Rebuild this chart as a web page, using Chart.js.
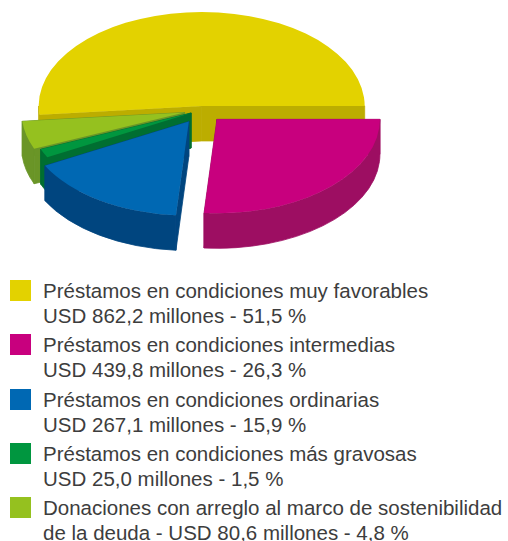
<!DOCTYPE html>
<html>
<head>
<meta charset="utf-8">
<script src="https://cdn.jsdelivr.net/npm/chart.js@4.4.1/dist/chart.umd.min.js"></script>
<style>
  body { margin: 0; background: #fff; width: 508px; height: 541px; overflow: hidden; font-family: "Liberation Sans", Arial, sans-serif; }
  #wrap { position: absolute; left: 0; top: 0; width: 508px; height: 272px; }
  #legend { position: absolute; left: 0; top: 278px; width: 508px; }
  .item { position: relative; padding-left: 43px; margin-bottom: 4.3px; font-size: 20.5px; line-height: 25px; color: #3d3d3d; white-space: nowrap; }
  .item .box { position: absolute; left: 10px; top: 2px; width: 21px; height: 21px; }
</style>
</head>
<body>
<div id="wrap"><canvas id="pie"></canvas></div>
<div id="legend"></div>
<script>
const labels = [
  'Préstamos en condiciones muy favorables',
  'Préstamos en condiciones intermedias',
  'Préstamos en condiciones ordinarias',
  'Préstamos en condiciones más gravosas',
  'Donaciones con arreglo al marco de sostenibilidad de la deuda'
];
const values = [862.2, 439.8, 267.1, 25.0, 80.6];   // USD millones
const percents = [51.5, 26.3, 15.9, 1.5, 4.8];

const topColors = ['#e3d200', '#c8007e', '#0068b3', '#00963f', '#95c11f'];
const sideColors = ['#bcad00', '#9d0e62', '#00457f', '#006e31', '#6a9527'];
const explode = [7, 22, 24, 12, 18];

const TILT = 94 / 163;
const RX = 163;
const DEPTH = 35;

const fmt = v => v.toFixed(1).replace('.', ',');

// fake 3d pie, drawn from the arc elements chart.js lays out
const pie3d = {
  id: 'pie3d',
  beforeDatasetsDraw(chart) {
    const ctx = chart.ctx;
    const meta = chart.getDatasetMeta(0);
    const ry = RX * TILT;
    const TAU = Math.PI * 2;

    const slices = meta.data.map((el, i) => {
      const mid = (el.startAngle + el.endAngle) / 2;
      const d = el.options.offset || 0;
      return {
        i: i,
        a0: el.startAngle,
        a1: el.endAngle,
        mid: mid,
        x: el.x + Math.cos(mid) * d,
        y: el.y + Math.sin(mid) * d * TILT
      };
    });
    // back to front
    slices.sort((p, q) => Math.sin(p.mid) - Math.sin(q.mid));

    slices.forEach(s => {
      const side = sideColors[s.i];
      ctx.save();
      ctx.fillStyle = side;
      ctx.strokeStyle = side;
      ctx.lineWidth = 0.8;
      ctx.lineJoin = 'round';

      // radial walls
      [s.a0, s.a1].forEach(a => {
        const px = s.x + RX * Math.cos(a);
        const py = s.y + ry * Math.sin(a);
        ctx.beginPath();
        ctx.moveTo(s.x, s.y);
        ctx.lineTo(px, py);
        ctx.lineTo(px, py + DEPTH);
        ctx.lineTo(s.x, s.y + DEPTH);
        ctx.closePath();
        ctx.fill();
        ctx.stroke();
      });

      // outer wall, only the front half shows
      const a0 = ((s.a0 % TAU) + TAU) % TAU;
      const a1 = a0 + (s.a1 - s.a0);
      [[0, Math.PI], [TAU, TAU + Math.PI]].forEach(r => {
        const t0 = Math.max(a0, r[0]);
        const t1 = Math.min(a1, r[1]);
        if (t1 <= t0) return;
        ctx.beginPath();
        ctx.ellipse(s.x, s.y, RX, ry, 0, t0, t1, false);
        ctx.ellipse(s.x, s.y + DEPTH, RX, ry, 0, t1, t0, true);
        ctx.closePath();
        ctx.fill();
        ctx.stroke();
      });

      // top face
      ctx.fillStyle = topColors[s.i];
      ctx.beginPath();
      ctx.moveTo(s.x, s.y);
      ctx.ellipse(s.x, s.y, RX, ry, 0, s.a0, s.a1, false);
      ctx.closePath();
      ctx.fill();
      ctx.restore();
    });
    return false;
  }
};

const total = values.reduce((a, b) => a + b, 0);

new Chart(document.getElementById('pie'), {
  type: 'pie',
  plugins: [pie3d],
  data: {
    labels: labels,
    datasets: [{
      data: values,
      backgroundColor: topColors,
      borderWidth: 0,
      offset: explode
    }]
  },
  options: {
    responsive: true,
    maintainAspectRatio: false,
    animation: false,
    events: [],
    // first slice ends at 3 o'clock
    rotation: 450 - values[0] / total * 360,
    layout: {
      padding: { left: 0, right: 104, top: 0, bottom: 52 }
    },
    plugins: {
      legend: { display: false },
      tooltip: { enabled: false }
    }
  }
});

// legend, value on its own line unless the label has to wrap
const legendEl = document.getElementById('legend');
const mctx = document.createElement('canvas').getContext('2d');
mctx.font = '20.5px "Liberation Sans", Arial, sans-serif';
const MAXW = 465;

function wrap(text) {
  const lines = [];
  let cur = '';
  text.split(' ').forEach(w => {
    const t = cur ? cur + ' ' + w : w;
    if (cur && mctx.measureText(t).width > MAXW) {
      lines.push(cur);
      cur = w;
    } else {
      cur = t;
    }
  });
  if (cur) lines.push(cur);
  return lines;
}

labels.forEach((lab, i) => {
  const item = document.createElement('div');
  item.className = 'item';
  const box = document.createElement('span');
  box.className = 'box';
  box.style.background = topColors[i];
  item.appendChild(box);
  const val = 'USD ' + fmt(values[i]) + ' millones - ' + fmt(percents[i]) + ' %';
  const lines = mctx.measureText(lab).width <= MAXW ? [lab, val] : wrap(lab + ' - ' + val);
  lines.forEach(l => {
    const row = document.createElement('div');
    row.textContent = l;
    item.appendChild(row);
  });
  legendEl.appendChild(item);
});
</script>
</body>
</html>
